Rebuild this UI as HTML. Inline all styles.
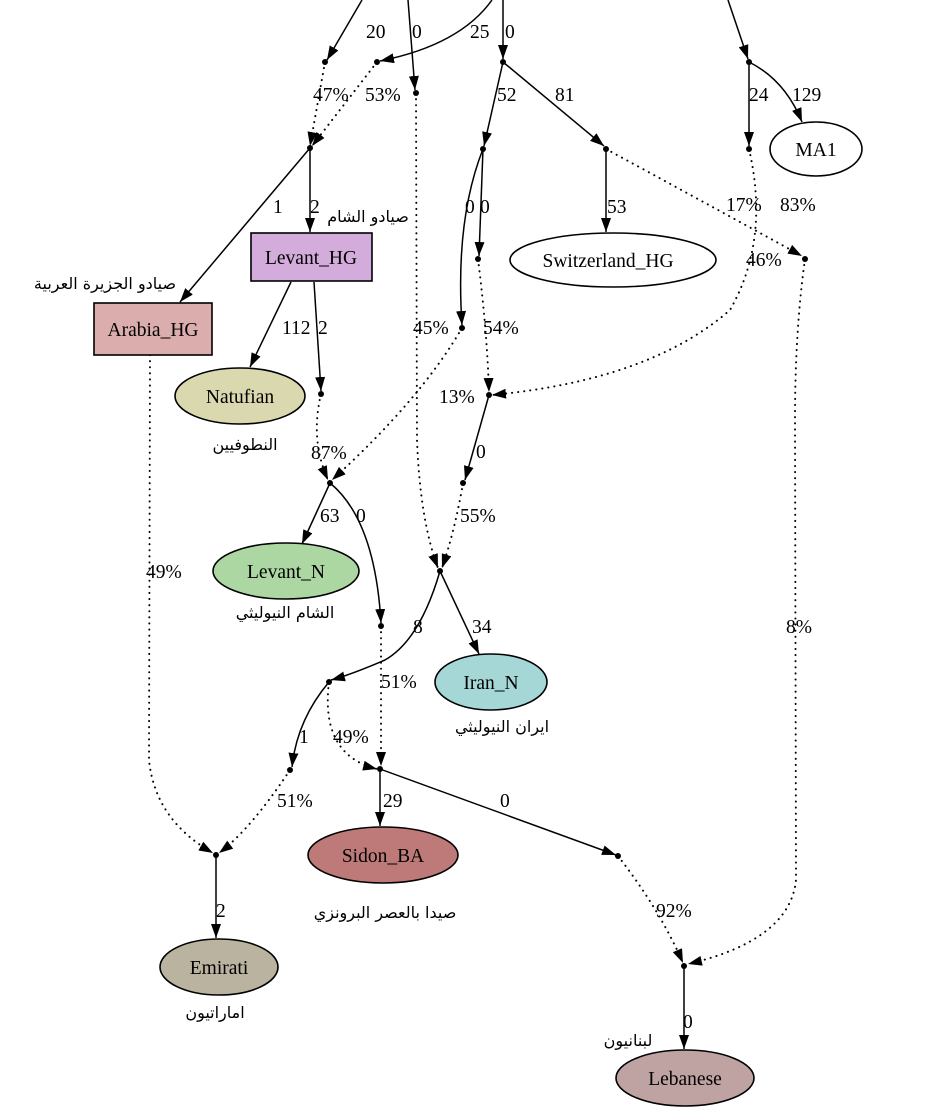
<!DOCTYPE html>
<html><head><meta charset="utf-8"><style>
html,body{margin:0;padding:0;background:#fff;}
svg{display:block;}
text{font-family:"Liberation Serif","DejaVu Sans",serif;font-size:19.5px;fill:#000;}
.ar{font-family:"DejaVu Sans","Liberation Serif",serif;font-size:16px;}
.s{fill:none;stroke:#000;stroke-width:1.5;}
.d{fill:none;stroke:#000;stroke-width:2;stroke-dasharray:0.1 6;stroke-linecap:round;}
</style></head><body>
<svg width="930" height="1118" viewBox="0 0 930 1118" xmlns="http://www.w3.org/2000/svg">
<defs>
<marker id="a" viewBox="0 0 14 10" refX="14" refY="5" markerWidth="14" markerHeight="10" markerUnits="userSpaceOnUse" orient="auto"><path d="M0,0 L14,5 L0,10 Z" fill="#000"/></marker>
</defs>
<g>
<path class="s" d="M362,0 L327,60" marker-end="url(#a)"/>
<path class="s" d="M408,0 L415,90" marker-end="url(#a)"/>
<path class="s" d="M492,0 Q460,45 380,61" marker-end="url(#a)"/>
<path class="s" d="M503,0 L503,59" marker-end="url(#a)"/>
<path class="s" d="M728,0 L748,59" marker-end="url(#a)"/>
<path class="d" d="M325,62 L310,146" marker-end="url(#a)"/>
<path class="d" d="M377,62 L312,146" marker-end="url(#a)"/>
<path class="s" d="M503,62 L484,146" marker-end="url(#a)"/>
<path class="s" d="M503,62 L604,146" marker-end="url(#a)"/>
<path class="s" d="M749,62 L749,146" marker-end="url(#a)"/>
<path class="s" d="M749,62 Q785,80 802,122" marker-end="url(#a)"/>
<path class="d" d="M416,93 L417,440 Q420,520 438,568" marker-end="url(#a)"/>
<path class="s" d="M310,148 L180,302" marker-end="url(#a)"/>
<path class="s" d="M310,148 L310,232" marker-end="url(#a)"/>
<path class="s" d="M483,149 Q455,220 462,325" marker-end="url(#a)"/>
<path class="s" d="M483,149 L479,256" marker-end="url(#a)"/>
<path class="s" d="M606,149 L606,232" marker-end="url(#a)"/>
<path class="d" d="M606,149 Q700,200 802,256" marker-end="url(#a)"/>
<path class="d" d="M749,149 Q770,240 730,310 Q650,380 492,395" marker-end="url(#a)"/>
<path class="d" d="M805,259 Q795,330 795,420 L796,880 Q790,940 688,964" marker-end="url(#a)"/>
<path class="s" d="M291,282 L250,367" marker-end="url(#a)"/>
<path class="s" d="M314,282 L321,391" marker-end="url(#a)"/>
<path class="d" d="M150,355 L149,760 Q155,820 213,853" marker-end="url(#a)"/>
<path class="d" d="M478,259 Q487,330 489,392" marker-end="url(#a)"/>
<path class="d" d="M462,328 Q420,400 332,480" marker-end="url(#a)"/>
<path class="d" d="M321,394 Q310,440 328,480" marker-end="url(#a)"/>
<path class="s" d="M489,395 L465,480" marker-end="url(#a)"/>
<path class="d" d="M463,483 Q455,530 442,568" marker-end="url(#a)"/>
<path class="s" d="M330,483 L302,544" marker-end="url(#a)"/>
<path class="s" d="M330,483 Q375,520 381,623" marker-end="url(#a)"/>
<path class="s" d="M440,571 Q420,640 385,660 Q350,675 331,680" marker-end="url(#a)"/>
<path class="s" d="M440,571 L479,654" marker-end="url(#a)"/>
<path class="d" d="M381,626 L381,766" marker-end="url(#a)"/>
<path class="s" d="M329,682 Q297,720 292,767" marker-end="url(#a)"/>
<path class="d" d="M329,682 Q320,755 377,769" marker-end="url(#a)"/>
<path class="d" d="M290,770 Q250,830 219,853" marker-end="url(#a)"/>
<path class="s" d="M380,769 L380,826" marker-end="url(#a)"/>
<path class="s" d="M380,769 L616,855" marker-end="url(#a)"/>
<path class="d" d="M618,856 Q660,910 683,963" marker-end="url(#a)"/>
<path class="s" d="M216,855 L216,938" marker-end="url(#a)"/>
<path class="s" d="M684,966 L684,1049" marker-end="url(#a)"/>
</g>
<g fill="#000">
<circle cx="325" cy="62" r="3"/><circle cx="377" cy="62" r="3"/><circle cx="416" cy="93" r="3"/><circle cx="503" cy="62" r="3"/><circle cx="749" cy="62" r="3"/>
<circle cx="310" cy="148" r="3"/><circle cx="483" cy="149" r="3"/><circle cx="606" cy="149" r="3"/><circle cx="749" cy="149" r="3"/>
<circle cx="478" cy="259" r="3"/><circle cx="805" cy="259" r="3"/><circle cx="462" cy="328" r="3"/><circle cx="321" cy="394" r="3"/><circle cx="489" cy="395" r="3"/>
<circle cx="463" cy="483" r="3"/><circle cx="330" cy="483" r="3"/><circle cx="440" cy="571" r="3"/><circle cx="381" cy="626" r="3"/><circle cx="329" cy="682" r="3"/>
<circle cx="290" cy="770" r="3"/><circle cx="380" cy="769" r="3"/><circle cx="216" cy="855" r="3"/><circle cx="618" cy="856" r="3"/><circle cx="684" cy="966" r="3"/>
</g>
<g stroke="#000" stroke-width="1.6">
<ellipse cx="816" cy="149" rx="46" ry="27" fill="#fff"/>
<rect x="251" y="233" width="121" height="48" fill="#d4acdc"/>
<rect x="94" y="303" width="118" height="52" fill="#dbadad"/>
<ellipse cx="240" cy="396" rx="65" ry="28" fill="#dad8ae"/>
<ellipse cx="613" cy="260" rx="103" ry="27" fill="#fff"/>
<ellipse cx="286" cy="571" rx="73" ry="28" fill="#acd7a2"/>
<ellipse cx="491" cy="682" rx="56" ry="28" fill="#a6d7d7"/>
<ellipse cx="383" cy="855" rx="75" ry="28" fill="#be7a79"/>
<ellipse cx="219" cy="967" rx="59" ry="28" fill="#b9b39f"/>
<ellipse cx="685" cy="1078" rx="69" ry="28" fill="#bfa2a2"/>
</g>
<g text-anchor="middle">
<text x="816" y="156">MA1</text>
<text x="311" y="264">Levant_HG</text>
<text x="153" y="336">Arabia_HG</text>
<text x="240" y="403">Natufian</text>
<text x="608" y="267">Switzerland_HG</text>
<text x="286" y="578">Levant_N</text>
<text x="491" y="689">Iran_N</text>
<text x="383" y="862">Sidon_BA</text>
<text x="219" y="974">Emirati</text>
<text x="685" y="1085">Lebanese</text>
<text class="ar" x="368" y="222" direction="rtl">صيادو الشام</text>
<text class="ar" x="105" y="289" direction="rtl">صيادو الجزيرة العربية</text>
<text class="ar" x="245" y="450" direction="rtl">النطوفيين</text>
<text class="ar" x="285" y="618" direction="rtl">الشام النيوليثي</text>
<text class="ar" x="502" y="732" direction="rtl">ايران النيوليثي</text>
<text class="ar" x="385" y="918" direction="rtl">صيدا بالعصر البرونزي</text>
<text class="ar" x="215" y="1018" direction="rtl">اماراتيون</text>
<text class="ar" x="628" y="1046" direction="rtl">لبنانيون</text>
</g>
<g>
<text x="366" y="38">20</text><text x="412" y="38">0</text><text x="470" y="38">25</text><text x="505" y="38">0</text>
<text x="313" y="101">47%</text><text x="365" y="101">53%</text>
<text x="497" y="101">52</text><text x="555" y="101">81</text>
<text x="749" y="101">24</text><text x="792" y="101">129</text>
<text x="273" y="213">1</text><text x="310" y="213">2</text>
<text x="465" y="213">0</text><text x="480" y="213">0</text><text x="607" y="213">53</text>
<text x="726" y="211">17%</text><text x="780" y="211">83%</text><text x="746" y="266">46%</text>
<text x="282" y="334">112</text><text x="318" y="334">2</text>
<text x="413" y="334">45%</text><text x="483" y="334">54%</text>
<text x="439" y="403">13%</text><text x="311" y="459">87%</text><text x="476" y="458">0</text>
<text x="460" y="522">55%</text><text x="320" y="522">63</text><text x="356" y="522">0</text>
<text x="146" y="578">49%</text><text x="413" y="633">8</text><text x="472" y="633">34</text>
<text x="786" y="633">8%</text><text x="381" y="688">51%</text>
<text x="299" y="743">1</text><text x="333" y="743">49%</text>
<text x="277" y="807">51%</text><text x="383" y="807">29</text><text x="500" y="807">0</text>
<text x="656" y="917">92%</text><text x="216" y="917">2</text><text x="683" y="1028">0</text>
</g>
</svg>
</body></html>
